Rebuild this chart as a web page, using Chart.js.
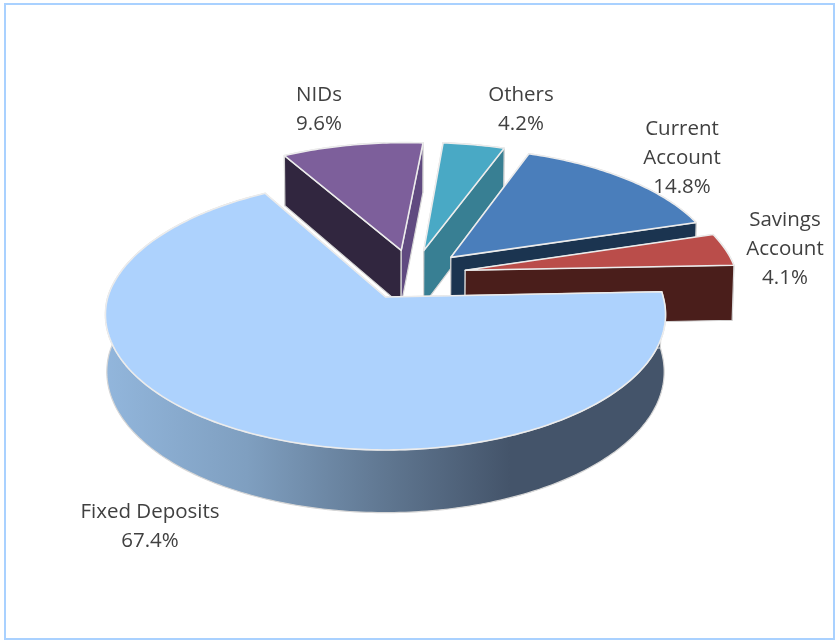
<!DOCTYPE html>
<html>
<head>
<meta charset="utf-8">
<title>Deposit mix</title>
<script src="https://cdn.jsdelivr.net/npm/chart.js@4"></script>
<style>
    html, body { margin: 0; padding: 0; background: #fff; }
    #wrap { position: relative; width: 835px; height: 640px; overflow: hidden; }
    #frame { position: absolute; left: 4px; top: 3px; width: 827px; height: 633px; border: 2px solid #a9d1ff; }
    canvas { position: absolute; left: 0; top: 0; }
</style>
</head>
<body>
<div id="wrap">
    <div id="frame"></div>
    <canvas id="depositChart" width="835" height="640"></canvas>
</div>
<script>
    // Chart data
    const categories = ['Fixed Deposits', 'NIDs', 'Others', 'Current Account', 'Savings Account'];
    const shares = [67.4, 9.6, 4.2, 14.8, 4.1];

    // Colours per slice: top face, face seen at the start cut, face seen at the end cut
    const topColors = ['#add2fd', '#7d5f9b', '#49a9c5', '#4a7ebb', '#ba4d4a'];
    const startCutColors = ['#44546a', '#31263f', '#387f93', '#1b3450', '#4a1e1b'];
    const endCutColors = ['#44546a', '#604a80', '#387f93', '#1b3450', '#4a1e1b'];

    // Tilted disc settings, in units of the pie radius
    const WIDTH_RATIO = 0.935;
    const HEIGHT_RATIO = 0.448;
    const PERSPECTIVE = 0.13;
    const SHEAR = 0.04;
    const EXPLODE = 0.198;
    const DEPTH = 0.19;
    const BASE_SHRINK = 0.995;

    // Split a label onto lines and add the percentage underneath
    function labelLines(i) {
        const name = categories[i];
        const lines = i >= 3 ? name.split(' ') : [name];
        return lines.concat(shares[i].toFixed(1) + '%');
    }

    const pie3d = {
        id: 'pie3d',
        beforeDatasetsDraw(chart, args, opts) {
            const ctx = chart.ctx;
            const arcs = chart.getDatasetMeta(0).data;
            const R = arcs[0].outerRadius;
            const cx = arcs[0].x;
            const cy = arcs[0].y;
            const midOf = a => (a.startAngle + a.endAngle) / 2;
            const mid0 = midOf(arcs[0]);

            // Plane coordinates to screen, top face and base
            const top = (u, v) => {
                const w = 1 - PERSPECTIVE * v;
                const y = R * HEIGHT_RATIO * v / w;
                // Only the far half of the plane leans to the right
                return [cx + R * WIDTH_RATIO * u / w - SHEAR * Math.min(y, 0), cy + y];
            };
            const base = (u, v) => {
                const p = top(u, v);
                const depth = R * DEPTH / (1 - 0.1 * v);
                return [cx + (p[0] - cx) * BASE_SHRINK, p[1] + depth];
            };

            const poly = (pts, fill, stroke, width) => {
                ctx.beginPath();
                pts.forEach((p, k) => k ? ctx.lineTo(p[0], p[1]) : ctx.moveTo(p[0], p[1]));
                ctx.closePath();
                ctx.fillStyle = fill;
                ctx.fill();
                ctx.strokeStyle = stroke;
                ctx.lineWidth = width;
                ctx.lineJoin = 'round';
                ctx.stroke();
            };

            // Side of the big slice fades from light on the left to dark on the right
            const sideFill = ctx.createLinearGradient(105, 0, 510, 0);
            sideFill.addColorStop(0, '#92b6dc');
            sideFill.addColorStop(0.35, '#7f9fc0');
            sideFill.addColorStop(0.7, '#5f7690');
            sideFill.addColorStop(1, '#44546a');

            // Back slices first, the big front slice last
            [1, 2, 3, 4, 0].forEach(i => {
                const arc = arcs[i];
                // Every wedge is pulled out from the hub; the big slice stays at the chart centre
                const ou = EXPLODE * (Math.cos(midOf(arc)) - Math.cos(mid0));
                const ov = EXPLODE * (Math.sin(midOf(arc)) - Math.sin(mid0));

                const rim = [];
                const steps = Math.ceil((arc.endAngle - arc.startAngle) / (Math.PI / 180));
                for (let s = 0; s <= steps; s++) {
                    const a = arc.startAngle + (arc.endAngle - arc.startAngle) * s / steps;
                    rim.push([ou + Math.cos(a), ov + Math.sin(a)]);
                }
                const hub = [ou, ov];
                const first = rim[0];
                const last = rim[rim.length - 1];

                // Outer wall
                const wallFill = i === 0 ? sideFill : startCutColors[i];
                poly(rim.map(p => top(p[0], p[1])).concat(rim.slice().reverse().map(p => base(p[0], p[1]))),
                    wallFill, '#d6d6d6', 1.2);

                // Cut faces
                poly([top(hub[0], hub[1]), top(first[0], first[1]), base(first[0], first[1]), base(hub[0], hub[1])],
                    startCutColors[i], '#d6d6d6', 1.2);
                poly([top(hub[0], hub[1]), top(last[0], last[1]), base(last[0], last[1]), base(hub[0], hub[1])],
                    endCutColors[i], '#d6d6d6', 1.2);

                // Top face
                poly([top(hub[0], hub[1])].concat(rim.map(p => top(p[0], p[1]))),
                    topColors[i], '#ececec', 1.6);
            });

            // Labels
            ctx.font = '20.5px "Open Sans", sans-serif';
            ctx.fillStyle = '#404040';
            ctx.textAlign = 'center';
            ctx.textBaseline = 'middle';
            opts.anchors.forEach((a, i) => {
                labelLines(i).forEach((line, k) => ctx.fillText(line, a[0], a[1] + k * 29));
            });

            // Default flat arcs are replaced by the faces above
            return false;
        }
    };

    new Chart(document.getElementById('depositChart').getContext('2d'), {
        type: 'pie',
        data: {
            labels: categories,
            datasets: [{ data: shares, backgroundColor: topColors, borderWidth: 0 }]
        },
        options: {
            responsive: false,
            animation: false,
            rotation: 87.7,
            layout: { padding: { right: 64, bottom: 46 } },
            plugins: {
                legend: { display: false },
                tooltip: { enabled: false },
                pie3d: { anchors: [[150, 512], [319, 95], [521, 95], [682, 129], [785, 220]] }
            }
        },
        plugins: [pie3d]
    });
</script>
</body>
</html>
